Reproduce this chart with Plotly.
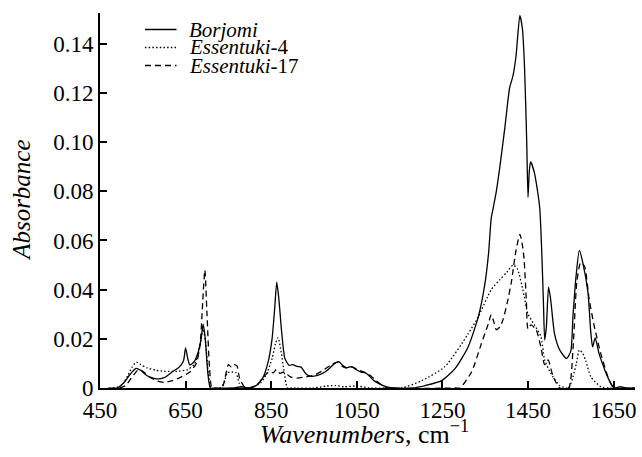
import plotly.graph_objects as go

# ---- data ----
borjomi_x = [470, 490, 505, 520, 534, 545, 560, 582, 600, 620, 635, 645, 650, 655, 660, 670, 680, 686, 691, 696,
             702, 708, 720, 760, 780, 800, 815, 830, 842, 852, 858, 863, 868, 874, 882, 892, 900, 910, 920, 930,
             940, 960, 980, 995, 1008, 1018, 1026, 1038, 1048, 1060, 1072, 1090, 1105, 1120, 1140, 1180, 1210,
             1248, 1280, 1310, 1334, 1349, 1358, 1364, 1369, 1376, 1384, 1396, 1407, 1415, 1422, 1431, 1437,
             1442, 1447, 1450, 1453, 1456, 1465, 1477, 1482, 1486, 1489, 1493, 1498, 1503, 1512, 1524, 1540,
             1550, 1555, 1562, 1570, 1578, 1590, 1597, 1601, 1607, 1616, 1626, 1636, 1651, 1665, 1680, 1700]
borjomi_y = [0, 0, 0.002, 0.0055, 0.008, 0.0072, 0.005, 0.0037, 0.0042, 0.0067, 0.0085, 0.011, 0.0163, 0.012,
             0.0094, 0.0107, 0.015, 0.0196, 0.026, 0.02, 0.006, 0, 0, 0, 0.0005, 0, 0.001, 0.004, 0.01, 0.02,
             0.032, 0.043, 0.036, 0.0237, 0.012, 0.0092, 0.0095, 0.0088, 0.0085, 0.006, 0.0048, 0.0052, 0.007,
             0.0095, 0.0107, 0.009, 0.0082, 0.0087, 0.0075, 0.0065, 0.006, 0.003, 0.0015, 0.0005, 0, 0, 0.001,
             0.003, 0.008, 0.0167, 0.029, 0.042, 0.055, 0.069, 0.0735, 0.08, 0.0896, 0.106, 0.122, 0.127, 0.135,
             0.1515, 0.146, 0.13, 0.1, 0.0775, 0.088, 0.092, 0.0875, 0.074, 0.056, 0.035, 0.0195, 0.025, 0.041,
             0.036, 0.022, 0.0155, 0.012, 0.015, 0.029, 0.045, 0.056, 0.051, 0.039, 0.022, 0.0167, 0.0204, 0.014,
             0.009, 0.0045, 0, 0.0005, 0, 0]

ess4_x = [480, 500, 515, 525, 535, 545, 560, 580, 600, 630, 655, 670, 680, 686, 691, 697, 703, 710, 730, 740,
          747, 758, 768, 775, 782, 800, 825, 840, 852, 860, 866, 872, 880, 888, 900, 950, 980, 1000, 1020, 1050,
          1080, 1120, 1155, 1202, 1256, 1310, 1334, 1364, 1384, 1400, 1415, 1425, 1438, 1450, 1465, 1480, 1489,
          1503, 1524, 1545, 1555, 1563, 1570, 1578, 1585, 1597, 1620, 1640, 1700]
ess4_y = [0, 0.001, 0.005, 0.0085, 0.0105, 0.0095, 0.0082, 0.0072, 0.0068, 0.0068, 0.0075, 0.0095, 0.014, 0.02,
          0.024, 0.018, 0.006, 0, 0, 0.002, 0.0062, 0.0065, 0.0062, 0.002, 0, 0, 0.002, 0.006, 0.012, 0.018,
          0.0205, 0.016, 0.007, 0, 0, 0, 0.0008, 0.001, 0.0005, 0.0008, 0, 0, 0, 0.003, 0.0087, 0.022, 0.029,
          0.04, 0.044, 0.047, 0.05, 0.0485, 0.04, 0.03, 0.0257, 0.021, 0.0114, 0.006, 0.001, 0, 0.0045, 0.01,
          0.0155, 0.014, 0.011, 0.0045, 0.0005, 0, 0]

ess17_x = [495, 510, 525, 540, 550, 565, 585, 600, 620, 640, 660, 675, 684, 690, 695, 700, 706, 712, 735, 742,
           750, 757, 763, 770, 776, 790, 815, 830, 845, 855, 862, 870, 880, 895, 910, 930, 950, 970, 990, 1005,
           1015, 1025, 1040, 1055, 1075, 1095, 1110, 1120, 1280, 1291, 1318, 1341, 1357, 1364, 1370, 1376, 1385,
           1392, 1402, 1411, 1422, 1431, 1437, 1441, 1446, 1450, 1457, 1469, 1480, 1489, 1497, 1508, 1524, 1545,
           1555, 1564, 1573, 1582, 1593, 1605, 1620, 1640, 1651, 1700]
ess17_y = [0, 0.001, 0.0045, 0.0075, 0.0068, 0.0045, 0.0028, 0.0023, 0.003, 0.0045, 0.0065, 0.01, 0.018, 0.035,
           0.048, 0.03, 0.008, 0, 0, 0.004, 0.0095, 0.0085, 0.0095, 0.009, 0.004, 0, 0.001, 0.004, 0.0067,
           0.0062, 0.0075, 0.006, 0.0065, 0.0045, 0.004, 0.0045, 0.0052, 0.007, 0.0095, 0.0105, 0.009, 0.0082,
           0.0085, 0.0072, 0.006, 0.003, 0.001, 0, 0, 0, 0.0065, 0.018, 0.026, 0.0298, 0.027, 0.0237, 0.025,
           0.028, 0.035, 0.043, 0.056, 0.0625, 0.058, 0.052, 0.036, 0.024, 0.0257, 0.0237, 0.0167, 0.0095,
           0.0114, 0.005, 0, 0, 0.0155, 0.043, 0.051, 0.0495, 0.036, 0.025, 0.014, 0.003, 0, 0]

series_names = ["<i>Borjomi</i>", "<i>Essentuki</i>-4", "<i>Essentuki</i>-17"]
x_ticks = [450, 650, 850, 1050, 1250, 1450, 1650]
y_ticks = [0, 0.02, 0.04, 0.06, 0.08, 0.10, 0.12, 0.14]
y_tick_text = ["0", "0.02", "0.04", "0.06", "0.08", "0.10", "0.12", "0.14"]

FONT = "Times New Roman"
dashes = ["solid", "1.5px,2.2px", "6px,4px"]
series = [(borjomi_x, borjomi_y), (ess4_x, ess4_y), (ess17_x, ess17_y)]

fig = go.Figure()
for (xs, ys), dash in zip(series, dashes):
    fig.add_trace(go.Scatter(x=xs, y=ys, mode="lines", showlegend=False,
                             line=dict(color="black", width=1.3, dash=dash, shape="spline", smoothing=0.6)))

# manual legend (line samples + text) in the upper-left corner
leg_y = [0.956, 0.908, 0.86]
for name, dash, yy in zip(series_names, dashes, leg_y):
    fig.add_shape(type="line", xref="paper", yref="paper", x0=0.084, x1=0.143, y0=yy, y1=yy,
                  line=dict(color="black", width=1.3, dash=dash))
    fig.add_annotation(xref="paper", yref="paper", x=0.162, y=yy, text=name, showarrow=False,
                       xanchor="left", yanchor="middle", font=dict(family=FONT, size=21, color="black"))

# axis titles
fig.add_annotation(xref="paper", yref="paper", x=0.495, y=-0.118, yanchor="middle", xanchor="center",
                   text="<i>Wavenumbers</i>, cm<sup>\u22121</sup>", showarrow=False,
                   font=dict(family=FONT, size=26, color="black"))
fig.add_annotation(xref="paper", yref="paper", x=-0.147, y=0.5, xanchor="center", yanchor="middle",
                   text="<i>Absorbance</i>", textangle=-90, showarrow=False,
                   font=dict(family=FONT, size=25, color="black"))

fig.update_layout(
    width=642, height=457,
    margin=dict(l=100, r=5, t=13, b=69),
    plot_bgcolor="white", paper_bgcolor="white",
    font=dict(family=FONT, size=23, color="black"),
    xaxis=dict(range=[450, 1700], tickvals=x_ticks, ticks="inside", ticklen=7, tickwidth=1.5,
               tickcolor="black", showline=True, linecolor="black", linewidth=2, showgrid=False,
               zeroline=False, mirror=False, tickfont=dict(family=FONT, size=23)),
    yaxis=dict(range=[0, 0.1525], tickvals=y_ticks, ticktext=y_tick_text, ticks="inside", ticklen=7,
               tickwidth=1.5, tickcolor="black", showline=True, linecolor="black", linewidth=2,
               showgrid=False, zeroline=False, mirror=False, tickfont=dict(family=FONT, size=23)),
)

fig.write_html("out.html", config={"displayModeBar": False},
               post_script="document.body.style.margin='0';")
